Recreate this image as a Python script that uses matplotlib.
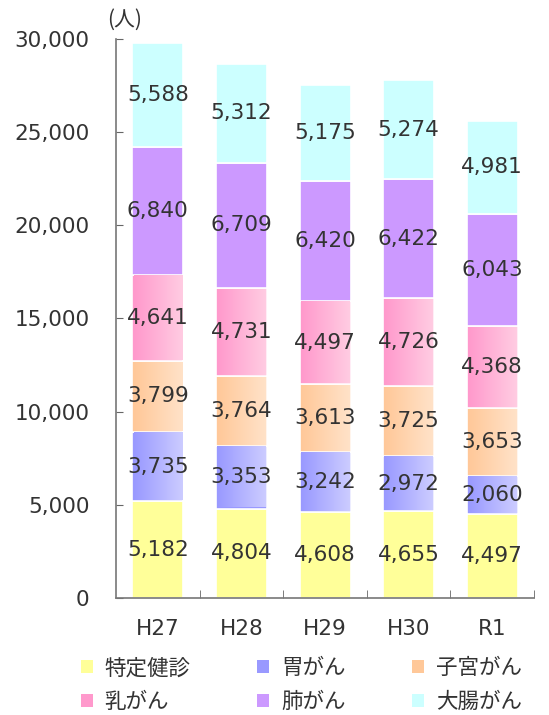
import matplotlib
matplotlib.use("Agg")
import matplotlib.pyplot as plt
from matplotlib.patches import Patch
from matplotlib.colors import LinearSegmentedColormap
import numpy as np

plt.rcParams['font.family'] = ['DejaVu Sans', 'Noto Sans CJK JP']

# data
years = ["H27", "H28", "H29", "H30", "R1"]
tokutei = [5182, 4804, 4608, 4655, 4497]
stomach = [3735, 3353, 3242, 2972, 2060]
uterus = [3799, 3764, 3613, 3725, 3653]
breast = [4641, 4731, 4497, 4726, 4368]
lung = [6840, 6709, 6420, 6422, 6043]
colon = [5588, 5312, 5175, 5274, 4981]

series = [
    ("特定健診", tokutei, ("#ffff99", "#ffff99")),
    ("胃がん", stomach, ("#9999ff", "#ccccff")),
    ("子宮がん", uterus, ("#ffc899", "#ffe2c8")),
    ("乳がん", breast, ("#ff99cc", "#ffcce2")),
    ("肺がん", lung, ("#cc99ff", "#cc99ff")),
    ("大腸がん", colon, ("#ccffff", "#ccffff")),
]

txt = "#333333"

fig = plt.figure(figsize=(5.49, 7.15), dpi=100)
ax = fig.add_axes([0.2113, 0.1636, 0.7614, 0.7819])

x = np.arange(len(years))
bottom = np.zeros(len(years))
handles = []
for name, vals, (c1, c2) in series:
    bars = ax.bar(x, vals, bottom=bottom, width=0.61, color=c1,
                  edgecolor="white", linewidth=1.2, zorder=2)
    if c1 != c2:
        cmap = LinearSegmentedColormap.from_list(name, [c1, c2])
        grad = np.linspace(0, 1, 64).reshape(1, -1)
        for b in bars:
            x0, y0 = b.get_x(), b.get_y()
            w, h = b.get_width(), b.get_height()
            ax.imshow(grad, cmap=cmap, aspect="auto", zorder=2.5,
                      extent=(x0 + 0.015, x0 + w - 0.015, y0 + 60, y0 + h - 60))
    for xi, v, b0 in zip(x, vals, bottom):
        ax.text(xi, b0 + v / 2, f"{v:,}", ha="center", va="center",
                fontsize=15.5, color=txt, zorder=4)
    bottom = bottom + np.array(vals)
    handles.append(Patch(facecolor=c1, edgecolor="none"))

ax.set_xlim(-0.5, 4.5)
ax.set_ylim(0, 30000)
ax.set_yticks(range(0, 30001, 5000))
ax.set_yticklabels([f"{v:,}" for v in range(0, 30001, 5000)])
ax.set_xticks(x)
ax.set_xticklabels(years)
ax.set_xticks(x + 0.5, minor=True)
ax.tick_params(axis="x", which="major", length=0, pad=15, labelsize=15.5, labelcolor=txt)
ax.tick_params(axis="x", which="minor", direction="in", length=6, color="#666666")
ax.tick_params(axis="y", direction="in", length=5, pad=19, labelsize=15.5,
               labelcolor=txt, color="#666666")
for s in ["top", "right"]:
    ax.spines[s].set_visible(False)
for s in ["left", "bottom"]:
    ax.spines[s].set_color("#777777")
    ax.spines[s].set_linewidth(1.2)

fig.text(0.195, 0.973, "(人)", fontsize=15, color=txt, ha="left", va="center",
         family=['Noto Sans CJK JP', 'DejaVu Sans'])

labels = [s[0] for s in series]
order = [0, 3, 1, 4, 2, 5]
fig.legend([handles[i] for i in order], [labels[i] for i in order],
           ncol=3, loc="upper left", bbox_to_anchor=(0.128, 0.096),
           frameon=False, handlelength=0.55, handleheight=0.55,
           handletextpad=0.55, columnspacing=3.1, labelspacing=0.55,
           labelcolor=txt, borderpad=0,
           prop={'family': ['Noto Sans CJK JP', 'DejaVu Sans'], 'size': 15.5})

fig.savefig("out.png", dpi=100)
